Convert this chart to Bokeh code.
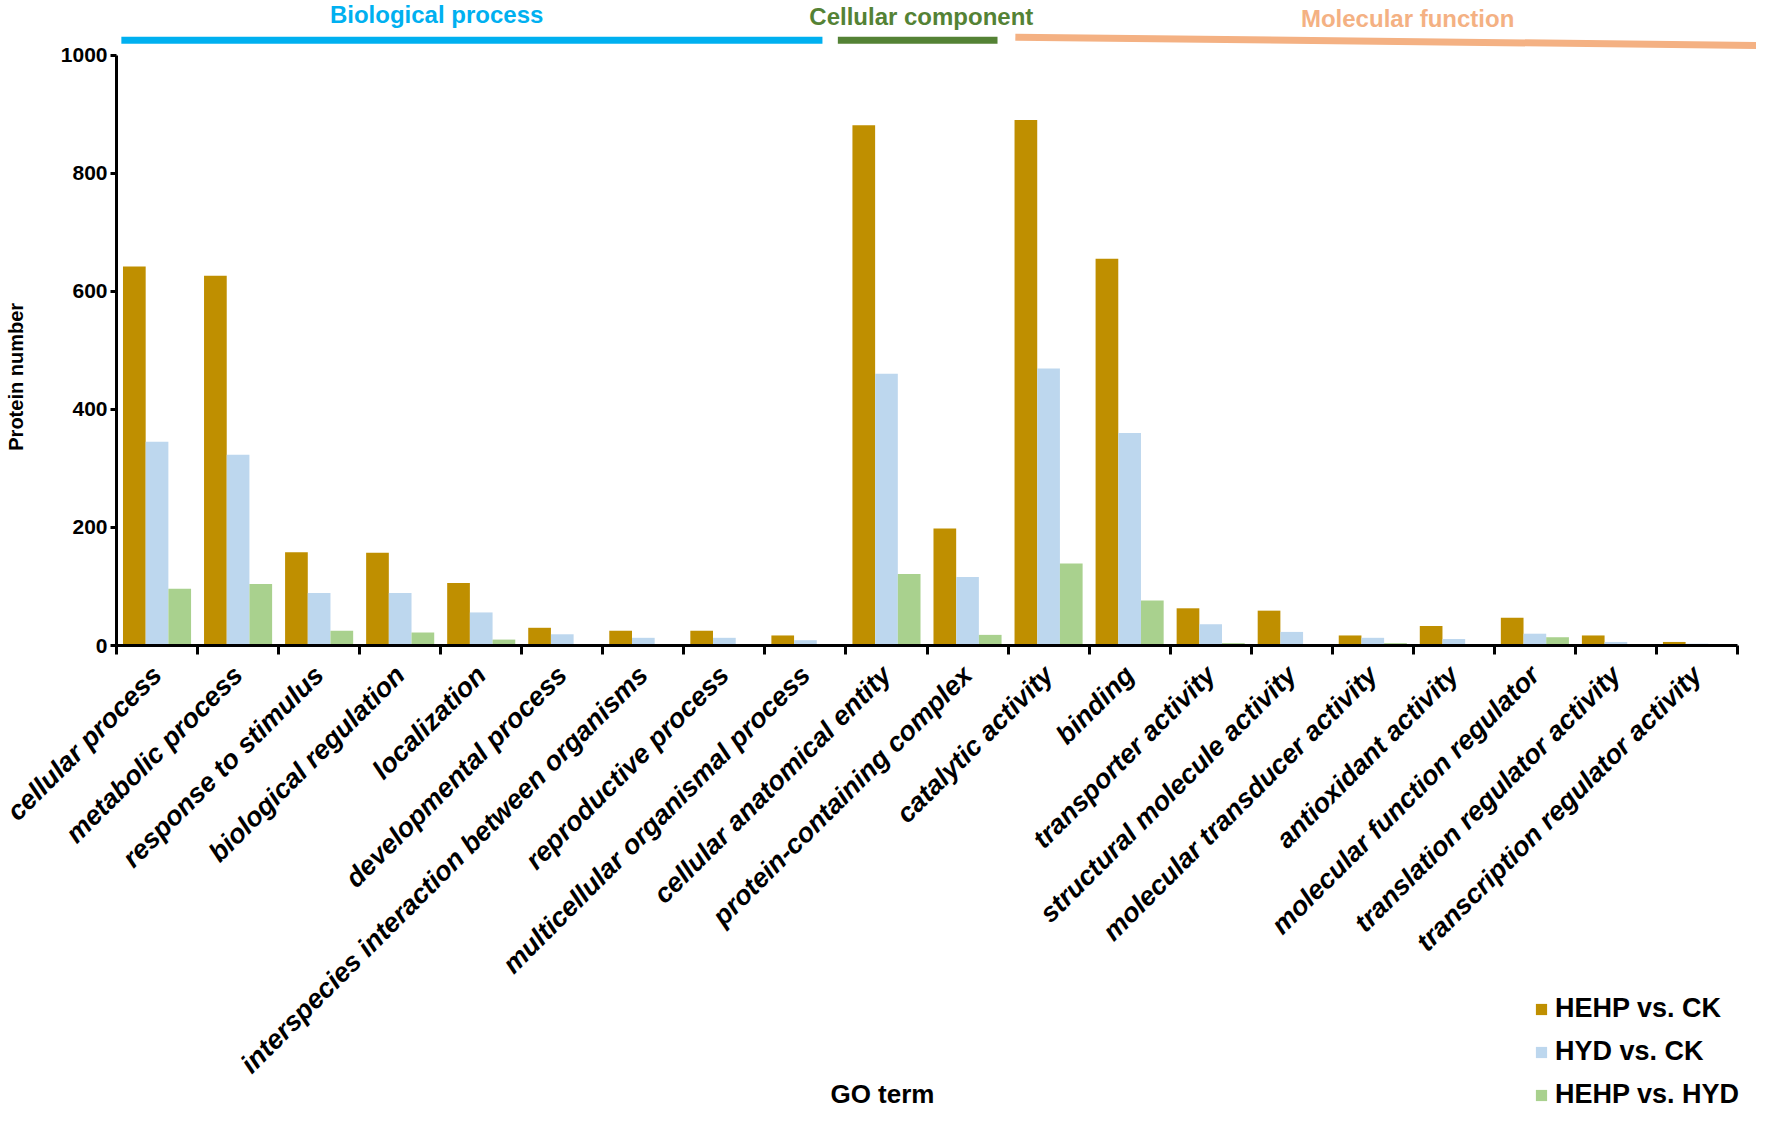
import math
from bokeh.plotting import figure
from bokeh.models import (FixedTicker, Label, Legend, LegendItem, Arrow,
                          ColumnDataSource, Range1d)
from bokeh.transform import dodge
from bokeh.embed import file_html
from bokeh.resources import INLINE

# ---------------- data ----------------
categories = [
    "cellular process", "metabolic process", "response to stimulus",
    "biological regulation", "localization", "developmental process",
    "interspecies interaction between organisms", "reproductive process",
    "multicellular organismal process", "cellular anatomical entity",
    "protein-containing complex", "catalytic activity", "binding",
    "transporter activity", "structural molecule activity",
    "molecular transducer activity", "antioxidant activity",
    "molecular function regulator", "translation regulator activity",
    "transcription regulator activity",
]
hehp_vs_ck = [642, 626, 158, 157, 106, 30, 25, 25, 17, 881, 198, 890, 655,
              63, 59, 17, 33, 47, 17, 6]
hyd_vs_ck = [345, 323, 89, 89, 56, 19, 13, 13, 9, 460, 116, 469, 360,
             36, 23, 13, 11, 20, 6, 3]
hehp_vs_hyd = [96, 104, 25, 22, 10, 0, 2, 0, 0, 121, 18, 139, 76,
               4, 0, 4, 2, 14, 0, 0]
series_names = ["HEHP vs. CK", "HYD vs. CK", "HEHP vs. HYD"]
series_colors = ["#BF8F00", "#BDD7EE", "#A9D18E"]
y_ticks = [0, 200, 400, 600, 800, 1000]

groups = ["Biological process", "Cellular component", "Molecular function"]
group_colors = ["#00B0F0", "#548235", "#F4B183"]

# ---------------- layout (pixels) ----------------
W, H = 1756, 1111
PX_LEFT, PX_RIGHT = 116.0, 1737.0     # x = -0.5 .. n-0.5
PX_TOP, PX_BASE = 54.5, 645.0         # y = 1000 .. 0
n = len(categories)
sx = (PX_RIGHT - PX_LEFT) / n
sy = (PX_BASE - PX_TOP) / 1000.0
x_start = -0.5 - PX_LEFT / sx
x_end = n - 0.5 + (W - PX_RIGHT) / sx
y_end = 1000 + PX_TOP / sy
y_start = -(H - PX_BASE) / sy

p = figure(width=W, height=H, output_backend="svg", toolbar_location=None,
           title=None, x_range=Range1d(x_start, x_end),
           y_range=Range1d(y_start, y_end),
           min_border=0, min_border_left=0, min_border_right=0,
           min_border_top=0, min_border_bottom=0)
p.grid.visible = False
p.outline_line_color = None
p.background_fill_color = "white"
p.border_fill_color = "white"

src = ColumnDataSource(dict(x=list(range(n)), a=hehp_vs_ck,
                            b=hyd_vs_ck, c=hehp_vs_hyd))
bw = 0.28
renderers = []
for key, off, col in zip(["a", "b", "c"], [-bw, 0, bw], series_colors):
    r = p.vbar(x=dodge("x", off, range=p.x_range), top=key, width=bw,
               bottom=0, source=src, fill_color=col, line_color=None)
    renderers.append(r)

# ---------------- axes ----------------
SANS = "Liberation Sans"
yax = p.yaxis[0]
yax.fixed_location = -0.5
yax.bounds = (0, 1000)
yax.ticker = FixedTicker(ticks=y_ticks)
yax.axis_line_width = 3
yax.major_tick_line_width = 3
yax.major_tick_out = 6
yax.major_tick_in = 0
yax.minor_tick_line_color = None
yax.major_label_text_font = SANS
yax.major_label_text_font_style = "bold"
yax.major_label_text_font_size = "21px"
yax.major_label_text_color = "black"
yax.major_label_standoff = 3

xax = p.xaxis[0]
xax.fixed_location = 0
xax.bounds = (-0.5, n - 0.5)
xax.ticker = FixedTicker(ticks=list(range(n)),
                         minor_ticks=[i - 0.5 for i in range(n + 1)])
xax.major_label_overrides = {i: c for i, c in enumerate(categories)}
xax.axis_line_width = 3
xax.major_tick_line_color = None
xax.major_tick_out = 0
xax.major_tick_in = 0
xax.minor_tick_line_width = 3
xax.minor_tick_line_color = "black"
xax.minor_tick_out = 9
xax.minor_tick_in = 0
xax.major_label_orientation = math.pi / 4
xax.major_label_text_font = SANS
xax.major_label_text_font_style = "bold italic"
xax.major_label_text_font_size = "27px"
xax.major_label_text_color = "black"
xax.major_label_standoff = 16

# axis titles
p.add_layout(Label(x=-1.734, y=455, text="Protein number", angle=math.pi / 2,
                   text_align="center", text_baseline="middle",
                   text_font=SANS, text_font_style="bold",
                   text_font_size="20px", text_color="black"))
p.add_layout(Label(x=8.95, y=-760, text="GO term", text_align="center",
                   text_baseline="middle", text_font=SANS,
                   text_font_style="bold", text_font_size="26px",
                   text_color="black"))

# ---------------- group headers ----------------
line_spans = [(-0.44, 8.21, 1025, 1025), (8.40, 10.37, 1025, 1025),
              (10.59, 19.89, 1030, 1016)]
title_pos = [(3.45, 1068), (9.43, 1065), (15.43, 1062)]
for g, col, (x0, x1, y0, y1), (tx, ty) in zip(groups, group_colors, line_spans, title_pos):
    p.add_layout(Arrow(end=None, x_start=x0, x_end=x1, y_start=y0, y_end=y1,
                       line_color=col, line_width=7, line_cap="butt"))
    p.add_layout(Label(x=tx, y=ty, text=g, text_align="center",
                       text_baseline="middle", text_font=SANS,
                       text_font_style="bold", text_font_size="24px",
                       text_color=col))

# ---------------- legend ----------------
legend = Legend(items=[LegendItem(label=nm, renderers=[r])
                       for nm, r in zip(series_names, renderers)],
                location=(1534, 1), padding=0, margin=0, spacing=12,
                label_height=26, glyph_width=14, glyph_height=14,
                label_standoff=7, label_text_font=SANS,
                label_text_font_style="bold", label_text_font_size="27px",
                label_text_color="black", border_line_color=None,
                background_fill_alpha=0)
p.add_layout(legend, "center")

open("out.html", "w").write(file_html(p, INLINE))
